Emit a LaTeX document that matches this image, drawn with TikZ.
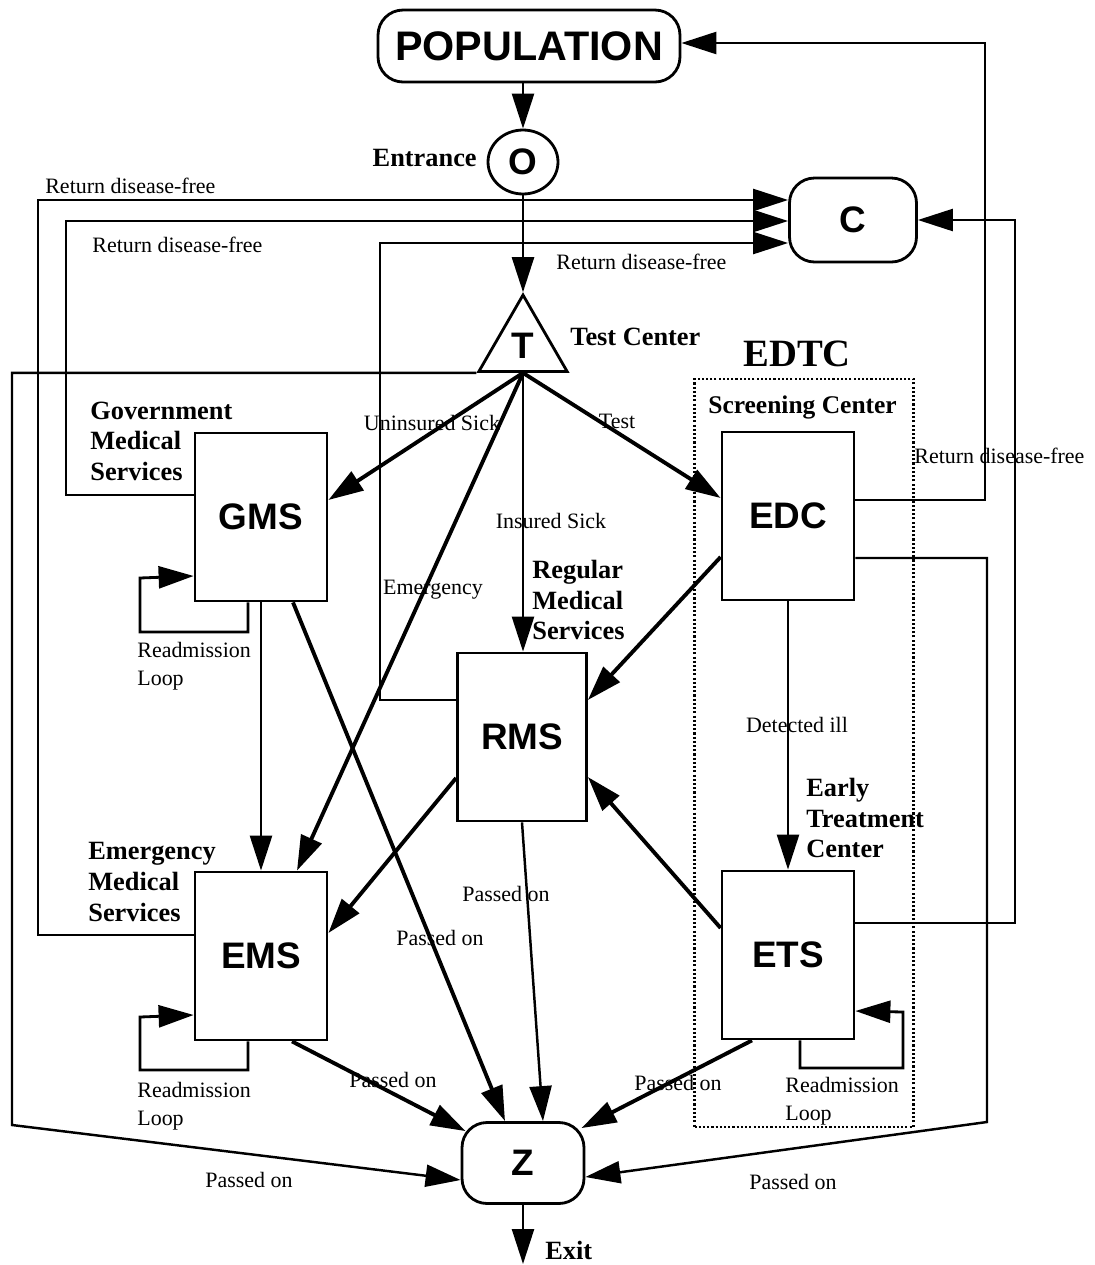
\documentclass[tikz,border=0pt]{standalone}
\usepackage{fontspec}
\setmainfont{Liberation Serif}
\newfontfamily\helv{Liberation Sans}
\usepackage{tikz}
\usetikzlibrary{arrows.meta}
\usetikzlibrary{shapes.geometric}
\tikzstyle{svc}=[draw, line width=1.6pt, minimum width=2.64cm, minimum height=3.36cm, inner sep=0pt, font=\helv\bfseries\fontsize{21}{25}\selectfont]
\tikzstyle{term}=[draw, line width=1.6pt, rounded corners=0.5cm, inner sep=0pt, font=\helv\bfseries\fontsize{21}{25}\selectfont]
\tikzstyle{heading}=[inner sep=0pt, align=left, anchor=west, font=\bfseries\fontsize{15}{17.4}\selectfont]
\tikzstyle{lbl}=[inner sep=0pt, align=left, font=\fontsize{12.5}{15.9}\selectfont]
\tikzstyle{flow}=[line width=2.2pt, -{Triangle[length=0.7cm, width=0.44cm]}]
\tikzstyle{link}=[line width=1.4pt, -{Triangle[length=0.7cm, width=0.44cm]}]
\tikzstyle{loopline}=[line width=1.6pt, -{Triangle[length=0.7cm, width=0.44cm]}]

\begin{document}
\begin{tikzpicture}[x=0.02cm, y=-0.02cm]
\useasboundingbox (0,0) rectangle (1095,1265);

% stations
\node[term, minimum width=6.04cm, minimum height=1.44cm, font=\helv\bfseries\fontsize{23.5}{28}\selectfont] (pop) at (529,46) {POPULATION};
\node[draw, ellipse, line width=1.6pt, minimum width=1.4cm, minimum height=1.28cm, inner sep=0pt, font=\helv\bfseries\fontsize{21}{25}\selectfont] (o) at (523,162) {O};
\node[term, minimum width=2.54cm, minimum height=1.68cm] (c) at (853,220) {C};
\node[draw, regular polygon, regular polygon sides=3, line width=1.6pt, minimum size=2.04cm, inner sep=0pt, font=\helv\bfseries\fontsize{21}{25}\selectfont] (t) at (523,346) {T};
\node[svc] (gms) at (261,517) {GMS};
\node[svc] (ems) at (261,956) {EMS};
\node[svc, minimum width=2.58cm] (rms) at (522,737) {RMS};
\node[svc] (edc) at (788,516) {EDC};
\node[svc] (ets) at (788,955) {ETS};
\node[term, minimum width=2.44cm, minimum height=1.62cm] (z) at (523,1163) {Z};
\coordinate (out) at (523,1264);

%The early detection frame
\node[draw, line width=1.2pt, dash pattern=on 1.2pt off 1.2pt, minimum width=4.38cm, minimum height=14.96cm] (edtc) at (804,753) {};
\node[font=\bfseries\fontsize{22}{26}\selectfont, inner sep=0pt] (edtcname) at (797,354) {EDTC};
\node[heading, font=\bfseries\fontsize{14.5}{17}\selectfont] (scr) at (708,407) {Screening Center};

\node[heading] (tc) at (570,337) {Test Center};
\node[heading, anchor=east] (ent) at (477,158) {Entrance};
\node[heading] (gmsname) at (90,441) {Government\\Medical\\Services};
\node[heading] (rmsname) at (532,600) {Regular\\Medical\\Services};
\node[heading] (etsname) at (806,818) {Early\\Treatment\\Center};
\node[heading] (emsname) at (88,882) {Emergency\\Medical\\Services};
\node[heading] (exitname) at (545,1250) {Exit};

\node[lbl, anchor=west] (r1) at (45,186) {Return disease-free};
\node[lbl, anchor=west] (r2) at (92,245) {Return disease-free};
\node[lbl, anchor=west] (r3) at (556,262) {Return disease-free};
\node[lbl, anchor=west] (r4) at (914,456) {Return disease-free};
\node[lbl] (l1) at (432,423) {Uninsured Sick};
\node[lbl] (l2) at (617,421) {Test};
\node[lbl] (l3) at (551,521) {Insured Sick};
\node[lbl] (l4) at (433,590) {Emergency};
\node[lbl] (l5) at (797,725) {Detected ill};
\node[lbl] (p1) at (506,894) {Passed on};
\node[lbl] (p2) at (440,938) {Passed on};
\node[lbl] (p3) at (393,1080) {Passed on};
\node[lbl] (p4) at (678,1083) {Passed on};
\node[lbl] (p5) at (249,1180) {Passed on};
\node[lbl] (p6) at (793,1182) {Passed on};
\node[lbl, anchor=west] (rl1) at (137,666) {Readmission\\Loop};
\node[lbl, anchor=west] (rl2) at (137,1106) {Readmission\\Loop};
\node[lbl, anchor=west] (rl3) at (785,1101) {Readmission\\Loop};

% entrance and test
\draw[link] (o.north |- pop.south) -- (o.north);
\draw[link] (o.south) -- (t.corner 1);
\draw[flow] (t.south) -- (gms.east |- 0,500);
\draw[flow] (t.south) -- (ems.north -| 297,0);
\draw[link] (t.south) -- (rms.north -| t.south);
\draw[flow] (t.south) -- (edc.west |- 0,498);
\draw[link] (t.corner 2) -| (12,1125) -- (z.west |- 0,1180);

% services
\draw[link] (gms.south) -- (ems.north);
\draw[flow] (gms.south -| 293,0) -- (z.north -| 505,0);
\draw[flow] (rms.west |- 0,778) -- (ems.east |- 0,933);
\draw[link] (rms.south) -- (z.north -| 543,0);
\draw[flow] (ems.south -| 292,0) -- ([xshift=0.1cm, yshift=-0.2cm]z.north west);
\draw[flow] (edc.west |- 0,557) -- (rms.east |- 0,700);
\draw[link] (edc.south) -- (ets.north);
\draw[flow] (ets.west |- 0,928) -- (rms.east |- 0,777);
\draw[flow] (ets.south -| 752,0) -- ([xshift=-0.08cm, yshift=-0.14cm]z.north east);
\draw[link] (edc.east |- 0,558) -| (987,1122) -- (z.east |- 0,1177);
\draw[link] (z.south) -- (out);

% readmission loops
\draw[loopline] (gms.south -| 248,0) -- (248,632) -| (140,578) -- (gms.west |- 0,576);
\draw[loopline] (ems.south -| 248,0) -- (248,1070) -| (140,1017) -- (ems.west |- 0,1015);
\draw[loopline] (ets.south -| 800,0) -- (800,1068) -| (903,1012) -- (ets.east |- 0,1011);

% returns
\draw[link] (ems.west |- 0,935) -| (38,200) -- (c.west |- 0,200);
\draw[link] (gms.west |- 0,495) -| (66,221) -- (c.west |- 0,221);
\draw[link] (rms.west |- 0,700) -| (380,243) -- (c.west |- 0,243);
\draw[link] (edc.east |- 0,500) -| (985,43) -- (pop.east |- 0,43);
\draw[link] (ets.east |- 0,923) -| (1015,220) -- (c.east);
\end{tikzpicture}
\end{document}
